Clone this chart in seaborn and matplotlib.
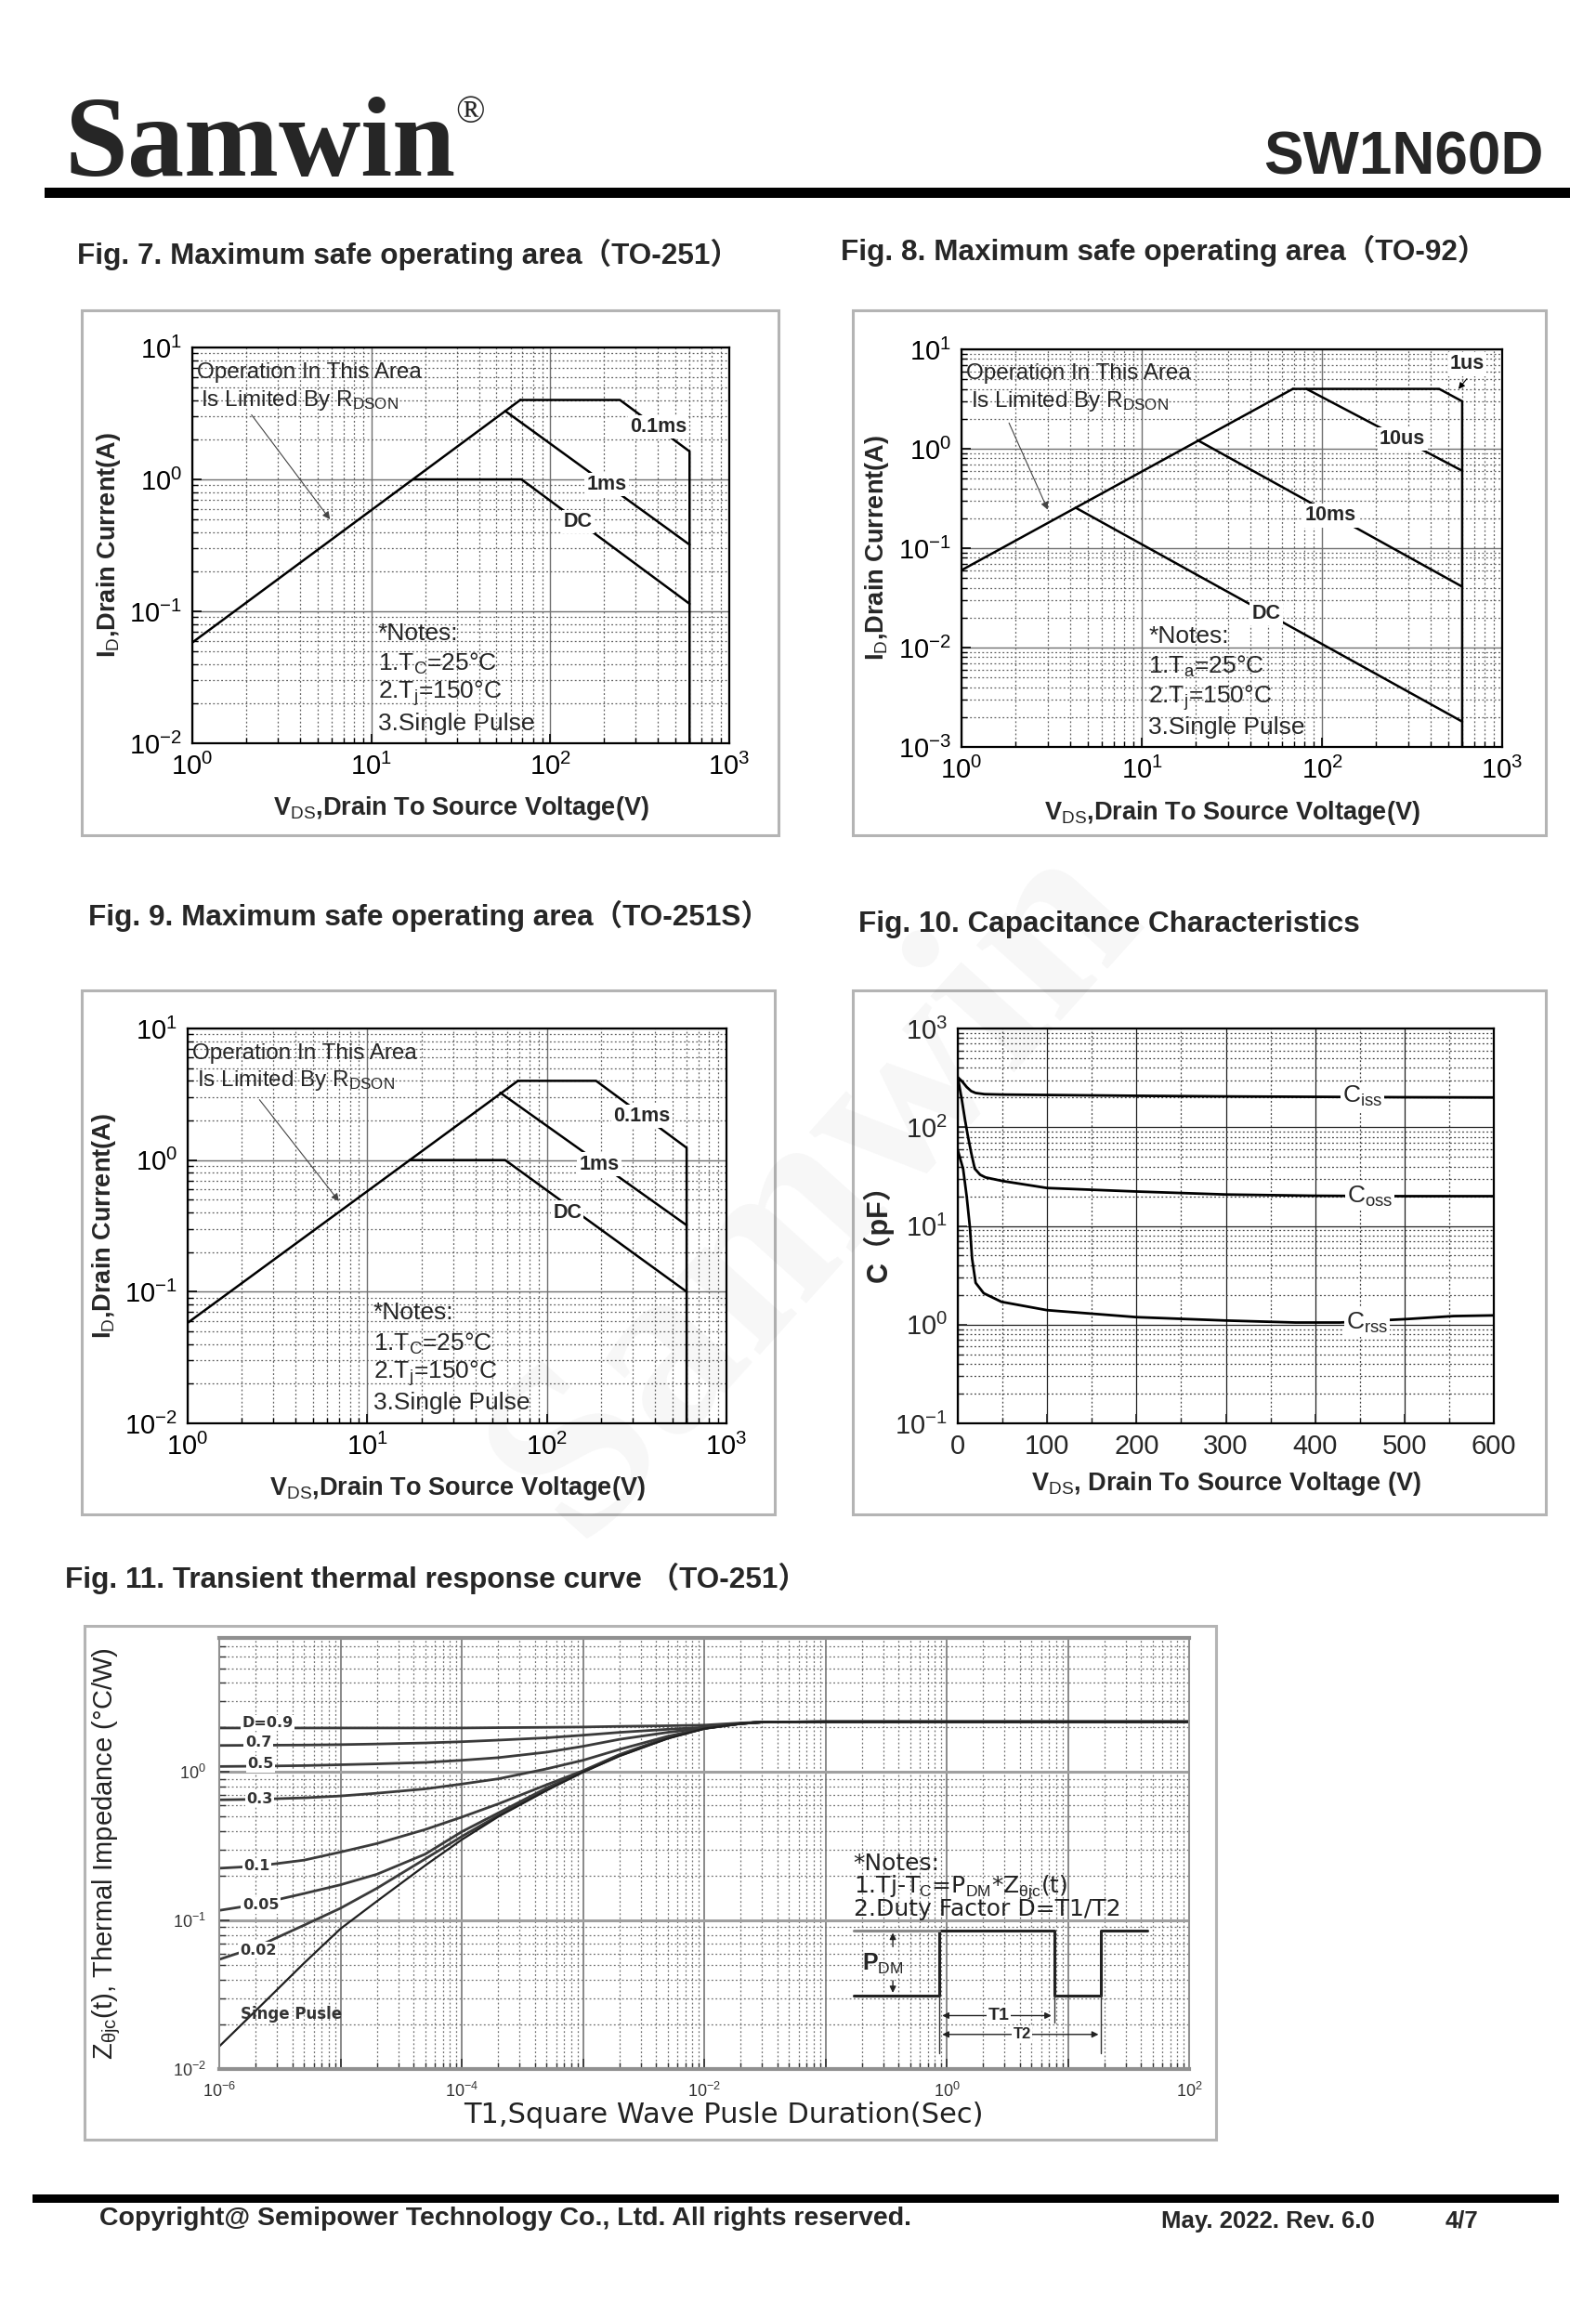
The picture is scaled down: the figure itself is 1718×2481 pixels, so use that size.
import matplotlib
matplotlib.use("Agg")
import matplotlib.pyplot as plt
import numpy as np
import seaborn as sns
from matplotlib.patches import Rectangle
from matplotlib.ticker import LogLocator, MultipleLocator, NullFormatter, FuncFormatter

W, H = 1718, 2481

# Fig. 7  safe operating area, TO-251
f7_rdson_v = [1.0, 68.0]
f7_rdson_i = [0.058, 4.0]
f7_01ms_v = [68.0, 245.0, 600.0, 600.0]
f7_01ms_i = [4.0, 4.0, 1.63, 0.01]
f7_1ms_v = [56.0, 600.0]
f7_1ms_i = [3.3, 0.32]
f7_dc_v = [17.2, 69.0, 600.0]
f7_dc_i = [1.0, 1.0, 0.114]

# Fig. 8  safe operating area, TO-92
f8_rdson_v = [1.0, 69.0]
f8_rdson_i = [0.06, 4.0]
f8_1us_v = [69.0, 447.0, 600.0, 600.0]
f8_1us_i = [4.0, 4.0, 3.0, 0.001]
f8_10us_v = [82.0, 600.0]
f8_10us_i = [4.0, 0.6]
f8_10ms_v = [20.4, 600.0]
f8_10ms_i = [1.22, 0.041]
f8_dc_v = [4.3, 600.0]
f8_dc_i = [0.255, 0.0018]

# Fig. 9  safe operating area, TO-251S
f9_rdson_v = [1.0, 69.0]
f9_rdson_i = [0.058, 4.0]
f9_01ms_v = [69.0, 188.0, 600.0, 600.0]
f9_01ms_i = [4.0, 4.0, 1.24, 0.01]
f9_1ms_v = [55.0, 600.0]
f9_1ms_i = [3.25, 0.32]
f9_dc_v = [17.2, 58.6, 600.0]
f9_dc_i = [1.0, 1.0, 0.1]

# Fig. 10  capacitance
ciss_v = [0, 5, 10, 15, 20, 30, 50, 100, 200, 300, 400, 500, 600]
ciss_c = [320, 290, 255, 232, 222, 216, 214, 212, 208, 205, 203, 201, 200]
coss_v = [0, 4.5, 8, 11, 15, 19, 25, 31, 50, 100, 200, 300, 400, 500, 600]
coss_c = [320, 190, 120, 84, 55, 38, 33, 31, 28.5, 24.2, 22.3, 20.8, 20.2, 20, 20]
crss_v = [0, 6, 10, 13.6, 16, 20, 29, 49, 100, 200, 300, 378, 428, 504, 555, 600]
crss_c = [58.6, 37.7, 19.8, 9.6, 4.66, 2.65, 2.08, 1.7, 1.4, 1.19, 1.1, 1.05, 1.05, 1.14, 1.22, 1.24]

# Fig. 11  transient thermal impedance
zth_t = [1e-6, 2e-6, 5e-6, 1e-5, 2e-5, 5e-5, 1e-4, 2e-4, 5e-4, 1e-3, 2e-3, 5e-3,
         1e-2, 2e-2, 3e-2, 1e-1, 1e2]
zth_curves = {
    "0.9": [1.98, 1.98, 1.98, 1.98, 1.98, 1.98, 1.98, 1.99, 2.0, 2.01, 2.03, 2.05, 2.07, 2.14, 2.17, 2.18, 2.18],
    "0.7": [1.51, 1.515, 1.52, 1.53, 1.545, 1.57, 1.6, 1.64, 1.7, 1.77, 1.85, 1.94, 2.0, 2.12, 2.17, 2.18, 2.18],
    "0.5": [1.09, 1.095, 1.105, 1.12, 1.135, 1.16, 1.2, 1.25, 1.36, 1.49, 1.66, 1.85, 1.98, 2.12, 2.17, 2.18, 2.18],
    "0.3": [0.65, 0.655, 0.67, 0.69, 0.72, 0.77, 0.83, 0.9, 1.05, 1.2, 1.42, 1.74, 1.97, 2.12, 2.17, 2.18, 2.18],
    "0.1": [0.225, 0.232, 0.255, 0.289, 0.33, 0.41, 0.497, 0.61, 0.82, 1.02, 1.31, 1.71, 1.97, 2.12, 2.17, 2.18, 2.18],
    "0.05": [0.117, 0.128, 0.152, 0.174, 0.205, 0.28, 0.396, 0.53, 0.78, 1.01, 1.3, 1.7, 1.97, 2.12, 2.17, 2.18, 2.18],
    "0.02": [0.0547, 0.066, 0.093, 0.121, 0.165, 0.26, 0.368, 0.51, 0.76, 1.0, 1.29, 1.69, 1.96, 2.12, 2.17, 2.18, 2.18],
    "single": [0.0142, 0.0247, 0.0516, 0.088, 0.135, 0.235, 0.35, 0.5, 0.75, 1.0, 1.28, 1.68, 1.96, 2.12, 2.17, 2.18, 2.18],
}
zth_label_t = {"0.9": 2.5e-6, "0.7": 2.1e-6, "0.5": 2.2e-6, "0.3": 2.15e-6, "0.1": 2.05e-6, "0.05": 2.2e-6, "0.02": 2.1e-6}
zth_label_z = {"0.9": 2.14, "0.7": 1.58, "0.5": 1.13, "0.3": 0.66, "0.1": 0.233, "0.05": 0.127, "0.02": 0.063}
pulse_t = [0.17, 0.875, 0.875, 7.7, 7.7, 18.8, 18.8, 45.0]
pulse_z = [0.0313, 0.0313, 0.086, 0.086, 0.0313, 0.0313, 0.086, 0.086]

sns.set_theme(style="white")
plt.rcParams["font.family"] = ["Liberation Sans", "DejaVu Sans", "Noto Sans CJK SC"]
plt.rcParams["mathtext.fontset"] = "custom"
plt.rcParams["mathtext.rm"] = "Liberation Sans"
plt.rcParams["mathtext.it"] = "Liberation Sans:italic"
plt.rcParams["mathtext.bf"] = "Liberation Sans:bold"

fig = plt.figure(figsize=(W / 100, H / 100), dpi=100)
fig.patch.set_facecolor("white")


def fx(px):
    return px / W


def fy(py):
    return 1 - py / H


def axes_px(x0, y0, x1, y1):
    return fig.add_axes([fx(x0), fy(y1), (x1 - x0) / W, (y1 - y0) / H])


def box_px(x0, y0, x1, y1, color="#b4b4b4", lw=2.2, fill=False):
    fig.add_artist(Rectangle((fx(x0), fy(y1)), (x1 - x0) / W, (y1 - y0) / H,
                             transform=fig.transFigure, fill=fill, ec=color,
                             fc=color if fill else "none", lw=lw))


def curve(ax, x, y, lw=1.8, color="black"):
    sns.lineplot(x=x, y=y, ax=ax, color=color, lw=lw, sort=False, estimator=None)


def log_style(ax, xlim, ylim, labelsize=21):
    ax.set_xscale("log")
    ax.set_yscale("log")
    ax.set_xlim(*xlim)
    ax.set_ylim(*ylim)
    for a in (ax.xaxis, ax.yaxis):
        a.set_major_locator(LogLocator(base=10, numticks=20))
        a.set_minor_locator(LogLocator(base=10, subs=np.arange(2, 10), numticks=20))
        a.set_minor_formatter(NullFormatter())
    ax.grid(True, which="major", color="#707070", lw=1.0, ls="-")
    ax.grid(True, which="minor", color="#606060", lw=0.9, ls=(0, (1.5, 2)))
    ax.set_axisbelow(True)
    ax.tick_params(which="both", direction="in", bottom=True, left=True,
                   labelsize=labelsize, pad=8, colors="black")
    ax.tick_params(which="major", length=7, width=1.2)
    ax.tick_params(which="minor", length=4, width=1.0)
    for s in ax.spines.values():
        s.set_color("black")
        s.set_linewidth(1.6)


def soa_texts(ax, op_xy, lim_xy, arrow_from, arrow_to, notes_x, notes_y, tsub):
    ax.text(op_xy[0], op_xy[1], "Operation In This Area", fontsize=17.5, va="center", ha="left")
    ax.text(lim_xy[0], lim_xy[1], r"Is Limited By R$_{\rm DSON}$", fontsize=17.5, va="center", ha="left")
    ax.annotate("", xy=arrow_to, xytext=arrow_from,
                arrowprops=dict(arrowstyle="-|>", color="#444444", lw=0.8, mutation_scale=12))
    lines = ["*Notes:", r"1.T$_{\rm %s}$=25°C" % tsub, r"2.T$_{\rm j}$=150°C", "3.Single Pulse"]
    for txt, yy in zip(lines, notes_y):
        ax.text(notes_x, yy, txt, fontsize=19, va="center", ha="left")


def label(ax, x, y, txt, size=15.5):
    ax.text(x, y, txt, fontsize=size, fontweight="bold", ha="center", va="center",
            bbox=dict(fc="white", ec="none", pad=1.5))


# ---------------- header & footer ----------------
fig.text(fx(70), fy(188), "Samwin", fontsize=88, fontweight="bold", family="Liberation Serif",
         ha="left", va="baseline")
fig.text(fx(506), fy(122), "®", fontsize=30, family="Liberation Serif", ha="center", va="center")
fig.text(fx(1662), fy(188), "SW1N60D", fontsize=46, fontweight="bold", ha="right", va="baseline")
box_px(48, 202, 1690, 213, color="black", lw=0, fill=True)
box_px(35, 2362, 1678, 2371, color="black", lw=0, fill=True)
fig.text(fx(107), fy(2388), "Copyright@ Semipower Technology Co., Ltd. All rights reserved.",
         fontsize=20.5, fontweight="bold", ha="left", va="center")
fig.text(fx(1250), fy(2391), "May. 2022. Rev. 6.0", fontsize=18.5, fontweight="bold", ha="left", va="center")
fig.text(fx(1556), fy(2391), "4/7", fontsize=18.5, fontweight="bold", ha="left", va="center")

# titles
title_kw = dict(fontsize=22.7, fontweight="bold", ha="left", va="center")
fig.text(fx(83), fy(274), "Fig. 7. Maximum safe operating area（TO-251）", **title_kw)
fig.text(fx(905), fy(270), "Fig. 8. Maximum safe operating area（TO-92）", **title_kw)
fig.text(fx(95), fy(986), "Fig. 9. Maximum safe operating area（TO-251S）", **title_kw)
fig.text(fx(924), fy(995), "Fig. 10. Capacitance Characteristics", **title_kw)
fig.text(fx(70), fy(1699), "Fig. 11. Transient thermal response curve （TO-251）", **title_kw)

# frames
box_px(88, 334, 838, 899)
box_px(918, 334, 1664, 899)
box_px(88, 1066, 834, 1630)
box_px(918, 1066, 1664, 1630)
box_px(91, 1750, 1309, 2303)

ylab_soa = r"I$_{\rm D}$,Drain Current(A)"
xlab_soa = r"V$_{\rm DS}$,Drain To Source Voltage(V)"

# ---------------- Fig. 7 ----------------
ax7 = axes_px(207, 374, 785, 800)
log_style(ax7, (1, 1000), (0.01, 10))
for v, i in [(f7_rdson_v, f7_rdson_i), (f7_01ms_v, f7_01ms_i), (f7_1ms_v, f7_1ms_i), (f7_dc_v, f7_dc_i)]:
    curve(ax7, v, i)
label(ax7, 400, 2.5, "0.1ms")
label(ax7, 207, 0.91, "1ms")
label(ax7, 143, 0.48, "DC")
soa_texts(ax7, (1.06, 6.5), (1.12, 4.0), (2.1, 3.2), (6.0, 0.48), 10.9, [0.068, 0.040, 0.024, 0.014], "C")
ax7.set_ylabel(ylab_soa, fontsize=19.5, fontweight="bold")
ax7.set_xlabel(xlab_soa, fontsize=19.5, fontweight="bold")
ax7.yaxis.set_label_coords(-0.13, 0.5)
ax7.xaxis.set_label_coords(0.5, -0.128)

# ---------------- Fig. 8 ----------------
ax8 = axes_px(1035, 376, 1617, 804)
log_style(ax8, (1, 1000), (0.001, 10))
for v, i in [(f8_rdson_v, f8_rdson_i), (f8_1us_v, f8_1us_i), (f8_10us_v, f8_10us_i),
             (f8_10ms_v, f8_10ms_i), (f8_dc_v, f8_dc_i)]:
    curve(ax8, v, i)
label(ax8, 640, 7.1, "1us")
ax8.annotate("", xy=(560, 3.8), xytext=(650, 5.3),
             arrowprops=dict(arrowstyle="-|>", color="black", lw=0.8, mutation_scale=10))
label(ax8, 280, 1.25, "10us")
label(ax8, 111, 0.213, "10ms")
label(ax8, 49, 0.022, "DC")
soa_texts(ax8, (1.06, 5.7), (1.12, 2.97), (1.81, 1.92), (3.05, 0.231), 10.9,
          [0.013, 0.0064, 0.0031, 0.00158], "a")
ax8.set_ylabel(ylab_soa, fontsize=19.5, fontweight="bold")
ax8.set_xlabel(xlab_soa, fontsize=19.5, fontweight="bold")
ax8.yaxis.set_label_coords(-0.13, 0.5)
ax8.xaxis.set_label_coords(0.5, -0.13)

# ---------------- Fig. 9 ----------------
ax9 = axes_px(202, 1107, 782, 1532)
log_style(ax9, (1, 1000), (0.01, 10))
for v, i in [(f9_rdson_v, f9_rdson_i), (f9_01ms_v, f9_01ms_i), (f9_1ms_v, f9_1ms_i), (f9_dc_v, f9_dc_i)]:
    curve(ax9, v, i)
label(ax9, 339, 2.15, "0.1ms")
label(ax9, 196, 0.93, "1ms")
label(ax9, 130, 0.40, "DC")
soa_texts(ax9, (1.06, 6.5), (1.12, 4.0), (2.46, 2.98), (7.1, 0.47), 10.8, [0.069, 0.040, 0.024, 0.0142], "C")
ax9.set_ylabel(ylab_soa, fontsize=19.5, fontweight="bold")
ax9.set_xlabel(xlab_soa, fontsize=19.5, fontweight="bold")
ax9.yaxis.set_label_coords(-0.13, 0.5)
ax9.xaxis.set_label_coords(0.5, -0.13)

# ---------------- Fig. 10 ----------------
ax10 = axes_px(1031, 1107, 1608, 1532)
ax10.set_yscale("log")
curve(ax10, ciss_v, ciss_c, lw=2.0)
curve(ax10, coss_v, coss_c, lw=2.0)
curve(ax10, crss_v, crss_c, lw=2.0)
ax10.set_xlim(0, 600)
ax10.set_ylim(0.1, 1000)
ax10.xaxis.set_major_locator(MultipleLocator(100))
ax10.xaxis.set_minor_locator(MultipleLocator(50))
ax10.yaxis.set_major_locator(LogLocator(base=10, numticks=20))
ax10.yaxis.set_minor_locator(LogLocator(base=10, subs=np.arange(2, 10), numticks=20))
ax10.yaxis.set_minor_formatter(NullFormatter())
ax10.grid(True, which="major", color="#202020", lw=0.9, ls="-")
ax10.grid(True, which="minor", color="#404040", lw=0.9, ls=(0, (1.5, 2)))
ax10.set_axisbelow(True)
ax10.tick_params(which="both", direction="in", bottom=True, left=True, labelsize=21, pad=8)
ax10.tick_params(which="major", length=7, width=1.2)
ax10.tick_params(which="minor", length=4)
for s in ax10.spines.values():
    s.set_color("black")
    s.set_linewidth(1.6)
for x, y, t in [(453, 204, r"C$_{\rm iss}$"), (461, 20, r"C$_{\rm oss}$"), (458, 1.05, r"C$_{\rm rss}$")]:
    ax10.text(x, y, t, fontsize=19, ha="center", va="center", bbox=dict(fc="white", ec="none", pad=1.5))
ax10.set_ylabel("C（pF）", fontsize=22, fontweight="bold")
ax10.set_xlabel(r"V$_{\rm DS}$, Drain To Source Voltage (V)", fontsize=19.5, fontweight="bold")
ax10.yaxis.set_label_coords(-0.12, 0.5)
ax10.xaxis.set_label_coords(0.5, -0.118)

# ---------------- Fig. 11 ----------------
ax11 = axes_px(236, 1763, 1280, 2227)
ax11.set_xscale("log")
ax11.set_yscale("log")
for name, z in zth_curves.items():
    col = "#202020" if name == "single" else "#3a3a3a"
    curve(ax11, zth_t, z, lw=1.6 if name == "single" else 2.0, color=col)
ax11.set_xlim(1e-6, 1e2)
ax11.set_ylim(0.01, 8)
for a in (ax11.xaxis, ax11.yaxis):
    a.set_major_locator(LogLocator(base=10, numticks=20))
    a.set_minor_locator(LogLocator(base=10, subs=np.arange(2, 10), numticks=20))
    a.set_minor_formatter(NullFormatter())
ax11.xaxis.set_major_formatter(FuncFormatter(
    lambda v, p: (r"$\mathdefault{10^{%d}}$" % round(np.log10(v))) if round(np.log10(v)) % 2 == 0 else ""))
ax11.grid(True, which="major", axis="x", color="#808080", lw=1.3, ls="-")
ax11.grid(True, which="major", axis="y", color="#a0a0a0", lw=2.2, ls="-")
ax11.grid(True, which="minor", color="#707070", lw=0.9, ls=(0, (1.5, 2)))
ax11.set_axisbelow(True)
ax11.tick_params(which="both", direction="in", bottom=True, left=True, labelsize=13, pad=10,
                 colors="#333333")
ax11.tick_params(which="major", length=8, width=1.2)
ax11.tick_params(which="minor", length=5)
for side, s in ax11.spines.items():
    s.set_color("#909090")
    s.set_linewidth(3.0 if side in ("top", "bottom") else 1.5)
for name, zl in zth_label_z.items():
    txt = "D=0.9" if name == "0.9" else name
    ax11.text(zth_label_t[name], zl, txt, fontsize=11.5, fontweight="bold", family="DejaVu Sans",
              color="#333333", ha="center", va="center", bbox=dict(fc="white", ec="none", pad=1.0))
ax11.text(3.9e-6, 0.0235, "Singe Pusle", fontsize=12, fontweight="bold", family="DejaVu Sans",
          color="#333333", ha="center", va="center")
note_kw = dict(fontsize=18, family="DejaVu Sans", color="#222222", ha="left", va="center")
ax11.text(0.17, 0.242, "*Notes:", **note_kw)
ax11.text(0.17, 0.168, r"1.Tj-T$_{\rm C}$=P$_{\rm DM}$*Z$_{\rm θjc}$(t)", **note_kw)
ax11.text(0.17, 0.12, "2.Duty Factor D=T1/T2", **note_kw)
ax11.plot(pulse_t, pulse_z, color="#222222", lw=2.2)
ax11.plot([0.17, 0.875], [0.086, 0.086], color="#888888", lw=2.2)
ax11.plot([0.875, 0.875], [0.0127, 0.0313], color="#333333", lw=1.0)
ax11.plot([7.7, 7.7], [0.0206, 0.0313], color="#333333", lw=1.0)
ax11.plot([18.8, 18.8], [0.0127, 0.0313], color="#333333", lw=1.0)
ax11.text(0.30, 0.051, r"P$_{\rm DM}$", fontsize=18, fontweight="bold", ha="center", va="center")
for ytip, ystart in [(0.086, 0.064), (0.0313, 0.041)]:
    ax11.annotate("", xy=(0.36, ytip), xytext=(0.36, ystart),
                  arrowprops=dict(arrowstyle="-|>", color="#222222", lw=1.0, mutation_scale=10))
ax11.annotate("", xy=(0.875, 0.0229), xytext=(7.7, 0.0229),
              arrowprops=dict(arrowstyle="<|-|>", color="#222222", lw=1.0, mutation_scale=10))
ax11.text(2.69, 0.0229, "T1", fontsize=14, fontweight="bold", ha="center", va="center",
          bbox=dict(fc="white", ec="none", pad=1.0))
ax11.annotate("", xy=(0.875, 0.0171), xytext=(18.8, 0.0171),
              arrowprops=dict(arrowstyle="<|-|>", color="#222222", lw=1.0, mutation_scale=10))
ax11.text(4.2, 0.0171, "T2", fontsize=12, fontweight="bold", ha="center", va="center",
          bbox=dict(fc="white", ec="none", pad=1.0))
ax11.set_ylabel(r"Z$_{\rm θjc}$(t), Thermal Impedance (°C/W)", fontsize=21, color="#222222")
ax11.set_xlabel("T1,Square Wave Pusle Duration(Sec)", fontsize=22, family="DejaVu Sans", color="#222222")
ax11.yaxis.set_label_coords(-0.10, 0.5)
ax11.xaxis.set_label_coords(0.52, -0.075)

# faint watermark
fig.text(fx(880), fy(1280), "Samwin", fontsize=190, fontweight="bold", family="Liberation Serif",
         rotation=48, color="black", alpha=0.035, ha="center", va="center")

fig.savefig("out.png", dpi=100, facecolor="white")
